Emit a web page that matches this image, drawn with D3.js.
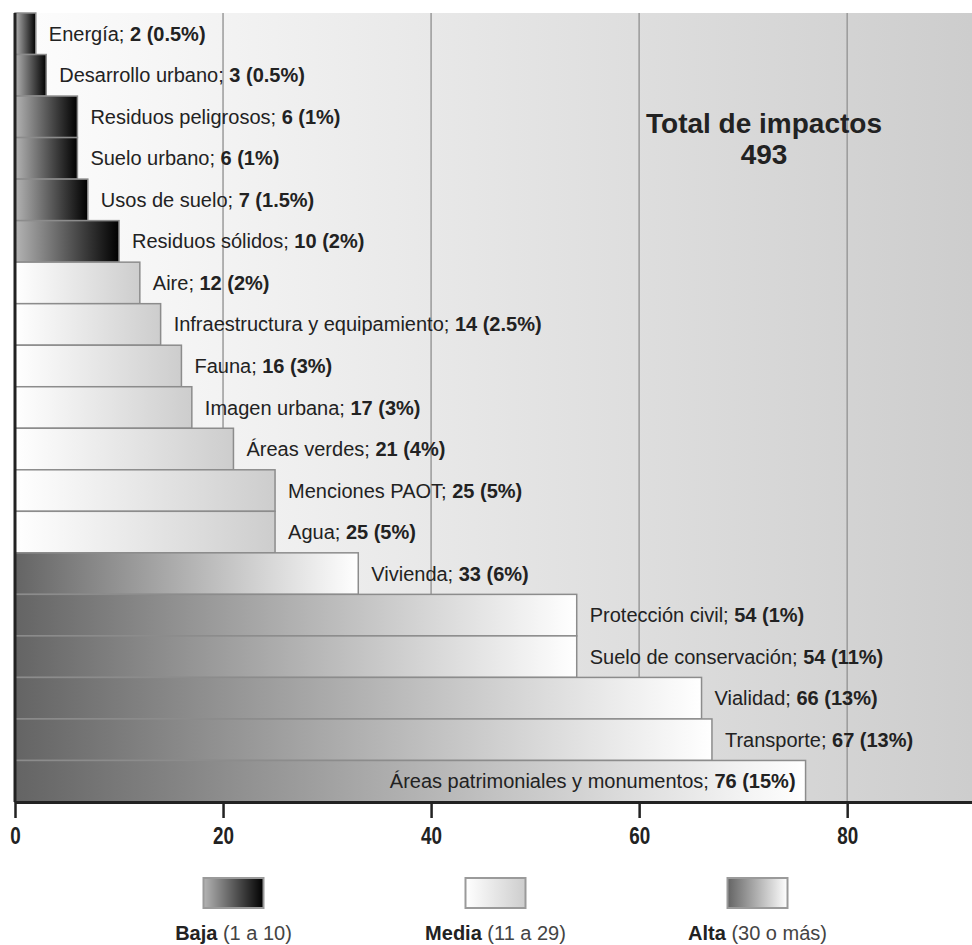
<!DOCTYPE html>
<html>
<head>
<meta charset="utf-8">
<script src="https://cdn.jsdelivr.net/npm/d3@7"></script>
<style>
  body { margin: 0; background: #fff; }
  text { font-family: "Liberation Sans", Arial, sans-serif; fill: #222; }
</style>
</head>
<body>
<div id="canvas"></div>
<script>
"use strict"

/* Data */
let categories = ["Energía", "Desarrollo urbano", "Residuos peligrosos", "Suelo urbano",
    "Usos de suelo", "Residuos sólidos", "Aire", "Infraestructura y equipamiento",
    "Fauna", "Imagen urbana", "Áreas verdes", "Menciones PAOT", "Agua", "Vivienda",
    "Protección civil", "Suelo de conservación", "Vialidad", "Transporte",
    "Áreas patrimoniales y monumentos"];
let values = [2, 3, 6, 6, 7, 10, 12, 14, 16, 17, 21, 25, 25, 33, 54, 54, 66, 67, 76];
let percents = ["0.5%", "0.5%", "1%", "1%", "1.5%", "2%", "2%", "2.5%", "3%", "3%",
    "4%", "5%", "5%", "6%", "1%", "11%", "13%", "13%", "15%"];
let tickValues = [0, 20, 40, 60, 80];
let levelNames = ["Baja", "Media", "Alta"];
let levelRanges = ["(1 a 10)", "(11 a 29)", "(30 o más)"];
let totalLabel = "Total de impactos";
let totalValue = 493;

let W = 972, H = 945;

let drawing = d3.select("#canvas")
    .append("svg")
    .attr("width", W)
    .attr("height", H);

let defs = drawing.append("defs");

/* gradients: background and the three levels */
function gradient(id, from, to) {
    let g = defs.append("linearGradient").attr("id", id)
        .attr("x1", "0%").attr("x2", "100%").attr("y1", "0%").attr("y2", "0%");
    g.append("stop").attr("offset", "0%").attr("stop-color", from);
    g.append("stop").attr("offset", "100%").attr("stop-color", to);
}
gradient("bg", "#fdfdfd", "#cdcdcd");
gradient("lvl0", "#b4b4b4", "#000000");
gradient("lvl1", "#ffffff", "#cdcdcd");
gradient("lvl2", "#646464", "#ffffff");

function level(v) {
    if (v <= 10) return 0;
    if (v < 30) return 1;
    return 2;
}

let x = d3.scaleLinear().domain([0, 92]).range([15, 972]);
let y = d3.scaleBand().domain(categories).range([13, 802]).padding(0);

/* plot background */
drawing.append("rect")
    .attr("x", x(0)).attr("y", y.range()[0])
    .attr("width", x(92) - x(0))
    .attr("height", y.range()[1] - y.range()[0])
    .attr("fill", "url(#bg)");

/* vertical grid lines */
drawing.append("g").selectAll("line")
    .data(tickValues.slice(1))
    .join("line")
    .attr("x1", d => x(d)).attr("x2", d => x(d))
    .attr("y1", y.range()[0]).attr("y2", y.range()[1])
    .attr("stroke", "#9a9a9a")
    .attr("stroke-width", 1.5);

/* bars */
let rows = categories.map((c, i) => ({ name: c, value: values[i], pct: percents[i] }));

drawing.append("g").selectAll("rect")
    .data(rows)
    .join("rect")
    .attr("x", x(0))
    .attr("y", d => y(d.name))
    .attr("width", d => x(d.value) - x(0))
    .attr("height", y.bandwidth())
    .attr("fill", d => "url(#lvl" + level(d.value) + ")")
    .attr("stroke", "#8c8c8c")
    .attr("stroke-width", 1.5);

/* bar labels: name regular, value bold */
let last = rows.length - 1;
let labels = drawing.append("g").selectAll("text")
    .data(rows)
    .join("text")
    .attr("x", (d, i) => i === last ? x(d.value) - 10 : x(d.value) + 13)
    .attr("y", d => y(d.name) + y.bandwidth() / 2)
    .attr("dy", "0.35em")
    .attr("text-anchor", (d, i) => i === last ? "end" : "start")
    .style("font-size", "20px");
labels.append("tspan").text(d => d.name + "; ");
labels.append("tspan").style("font-weight", "bold").text(d => d.value + " (" + d.pct + ")");

/* left axis line */
drawing.append("line")
    .attr("x1", x(0)).attr("x2", x(0))
    .attr("y1", y.range()[0]).attr("y2", y.range()[1])
    .attr("stroke", "#222").attr("stroke-width", 3);

/* bottom axis */
let axis = drawing.append("g")
    .attr("transform", "translate(0," + y.range()[1] + ")")
    .call(d3.axisBottom(x).tickValues(tickValues).tickSize(16).tickPadding(10).tickSizeOuter(0));
axis.select(".domain").attr("stroke", "#222").attr("stroke-width", 3);
axis.selectAll(".tick line").attr("stroke", "#222").attr("stroke-width", 2.5);
axis.selectAll(".tick text")
    .style("font-family", "'Liberation Sans', Arial, sans-serif")
    .style("font-size", "23px")
    .style("font-weight", "bold")
    .attr("transform", "scale(0.82,1)")
    .attr("fill", "#222");

/* total box text */
drawing.append("text")
    .attr("x", 764).attr("y", 133)
    .attr("text-anchor", "middle")
    .style("font-size", "28px").style("font-weight", "bold")
    .text(totalLabel);
drawing.append("text")
    .attr("x", 764).attr("y", 164)
    .attr("text-anchor", "middle")
    .style("font-size", "28px").style("font-weight", "bold")
    .text(totalValue);

/* legend */
let legendX = d3.scalePoint().domain(levelNames).range([233.5, 757.5]);

let legend = drawing.append("g").selectAll("g")
    .data(levelNames)
    .join("g")
    .attr("transform", d => "translate(" + legendX(d) + ",0)");
legend.append("rect")
    .attr("x", -30).attr("y", 878)
    .attr("width", 60).attr("height", 30)
    .attr("fill", (d, i) => "url(#lvl" + i + ")")
    .attr("stroke", "#9a9a9a").attr("stroke-width", 2);
let legendText = legend.append("text")
    .attr("y", 940)
    .attr("text-anchor", "middle")
    .style("font-size", "20px");
legendText.append("tspan").style("font-weight", "bold").text(d => d);
legendText.append("tspan").attr("fill", "#444").text((d, i) => " " + levelRanges[i]);
</script>
</body>
</html>
